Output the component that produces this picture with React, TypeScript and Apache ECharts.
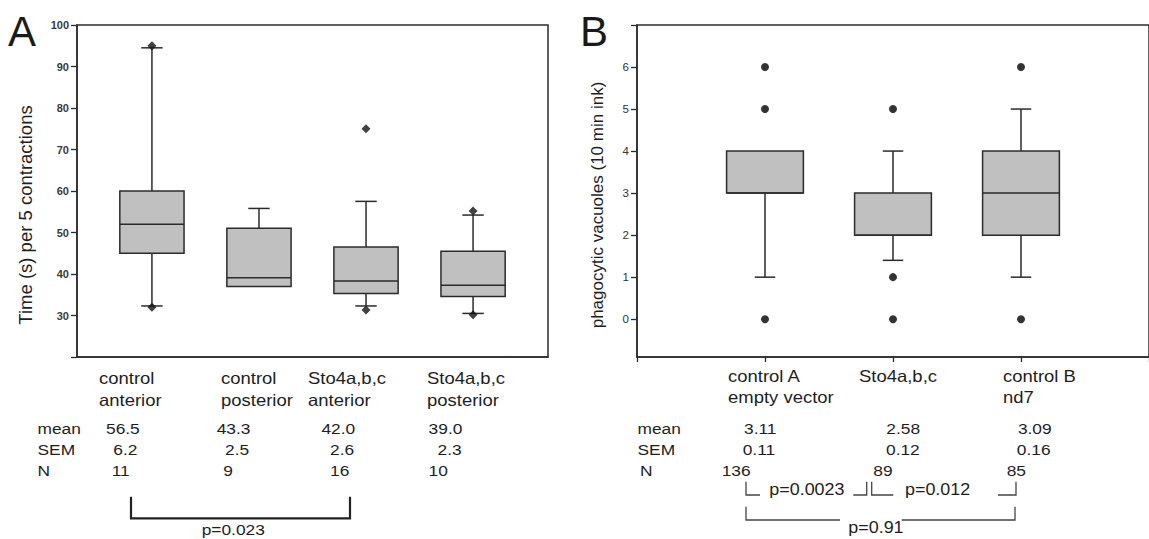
import React, { useEffect, useRef } from "react";
import * as echarts from "echarts";

// ---------- data ----------
const catsA = ["control\nanterior", "control\nposterior", "Sto4a,b,c\nanterior", "Sto4a,b,c\nposterior"];
const lowA = [32.3, 37, 32.3, 30.5];
const q1A = [45, 37, 35.3, 34.6];
const medA = [52, 39.1, 38.3, 37.3];
const q3A = [60, 51, 46.5, 45.5];
const highA = [94.5, 55.8, 57.5, 54.2];
const outliersA: [number, number][] = [[1, 95], [1, 32], [3, 75], [3, 31.3], [4, 55.2], [4, 30.2]];
const meanA = ["56.5", "43.3", "42.0", "39.0"];
const semA = ["6.2", "2.5", "2.6", "2.3"];
const nA = ["11", "9", "16", "10"];
const ticksA = [30, 40, 50, 60, 70, 80, 90, 100];

const catsB = ["control A\nempty vector", "Sto4a,b,c", "control B\nnd7"];
const lowB = [1, 1.4, 1];
const q1B = [3, 2, 2];
const medB = [3, 2, 3];
const q3B = [4, 3, 4];
const highB = [4, 4, 5];
const outliersB: [number, number][] = [[1, 6], [1, 5], [1, 0], [2, 5], [2, 1], [2, 0], [3, 6], [3, 0]];
const meanB = ["3.11", "2.58", "3.09"];
const semB = ["0.11", "0.12", "0.16"];
const nB = ["136", "89", "85"];
const ticksB = [0, 1, 2, 3, 4, 5, 6];

const rowLabels = ["mean", "SEM", "N"];
const pA = "p=0.023";
const pB = ["p=0.0023", "p=0.012", "p=0.91"];

// ---------- layout (pixels) ----------
const FONT = "'Liberation Sans', Arial, sans-serif";
const SX = 1.12;
const catLeftA = [99, 221, 308, 427];
const catLeftB = [728, 859, 1003];
const rowBase = [434, 455, 475.5];
const colA = [[106, 216.7, 321.4, 428.6], [113.3, 225, 330, 437.5], [111.7, 223.3, 330, 428.6]];
const colB = [[744, 886.3, 1017.9], [742.7, 886, 1016.8], [721.7, 873.3, 1006.7]];

function boxRender(boxW: number, capW: number) {
  return (_params: any, api: any) => {
    const x = api.value(0);
    const lo = api.value(1), q1 = api.value(2), med = api.value(3), q3 = api.value(4), hi = api.value(5);
    const pQ1 = api.coord([x, q1]);
    const pQ3 = api.coord([x, q3]);
    const pMed = api.coord([x, med]);
    const pLo = api.coord([x, lo]);
    const pHi = api.coord([x, hi]);
    const bw = api.size([boxW, 0])[0];
    const cw = api.size([capW, 0])[0];
    const cx = pQ1[0];
    const st = { stroke: "#2b2b2b", lineWidth: 1.5, fill: "none" };
    const ch: any[] = [];
    if (hi > q3) {
      ch.push({ type: "line", shape: { x1: cx, y1: pQ3[1], x2: cx, y2: pHi[1] }, style: st });
      ch.push({ type: "line", shape: { x1: cx - cw / 2, y1: pHi[1], x2: cx + cw / 2, y2: pHi[1] }, style: st });
    }
    if (lo < q1) {
      ch.push({ type: "line", shape: { x1: cx, y1: pQ1[1], x2: cx, y2: pLo[1] }, style: st });
      ch.push({ type: "line", shape: { x1: cx - cw / 2, y1: pLo[1], x2: cx + cw / 2, y2: pLo[1] }, style: st });
    }
    ch.push({
      type: "rect",
      shape: { x: cx - bw / 2, y: pQ3[1], width: bw, height: pQ1[1] - pQ3[1] },
      style: { fill: "#c0c0c0", stroke: "#2b2b2b", lineWidth: 1.5 },
    });
    ch.push({ type: "line", shape: { x1: cx - bw / 2, y1: pMed[1], x2: cx + bw / 2, y2: pMed[1] }, style: st });
    return { type: "group", children: ch };
  };
}

const T = (text: string, x: number, base: number, fs: number, fill = "#1e1e1e", sx = SX) => ({
  type: "text",
  x,
  y: base - 0.35 * fs,
  scaleX: sx,
  silent: true,
  style: { text, fontFamily: FONT, fontSize: fs, fill, align: "left", verticalAlign: "middle" },
});
const PL = (points: number[][], w: number, c: string) => ({
  type: "polyline",
  silent: true,
  shape: { points },
  style: { stroke: c, lineWidth: w, fill: "none" },
});

export default function App() {
  const ref = useRef<HTMLDivElement>(null);
  useEffect(() => {
    document.body.style.margin = "0";
    const chart = echarts.init(ref.current!, null, { renderer: "svg" });
    const boxDataA = catsA.map((_, i) => [i + 1, lowA[i], q1A[i], medA[i], q3A[i], highA[i]]);
    const boxDataB = catsB.map((_, i) => [i + 1, lowB[i], q1B[i], medB[i], q3B[i], highB[i]]);

    const g: any[] = [];
    g.push(T("A", 8, 46, 42, "#1a1a1a", 1));
    g.push(T("B", 580, 46, 42, "#1a1a1a", 1));
    g.push({
      type: "text", x: 25, y: 215, rotation: Math.PI / 2, silent: true,
      style: { text: "Time (s) per 5 contractions", fontFamily: FONT, fontSize: 18.5, fill: "#1e1e1e", align: "center", verticalAlign: "middle" },
    });
    g.push({
      type: "text", x: 597, y: 205, rotation: Math.PI / 2, silent: true,
      style: { text: "phagocytic vacuoles (10 min ink)", fontFamily: FONT, fontSize: 17, fill: "#1e1e1e", align: "center", verticalAlign: "middle" },
    });
    catsA.forEach((c, i) => {
      const [l1, l2] = c.split("\n");
      g.push(T(l1, catLeftA[i], 384, 16.5));
      if (l2) g.push(T(l2, catLeftA[i], 405.7, 16.5));
    });
    catsB.forEach((c, i) => {
      const [l1, l2] = c.split("\n");
      g.push(T(l1, catLeftB[i], 381.7, 16.5));
      if (l2) g.push(T(l2, catLeftB[i], 403.3, 16.5));
    });
    rowLabels.forEach((r, k) => {
      g.push(T(r, 37.5, rowBase[k], 15.5));
      g.push(T(r, k === 2 ? 640 : 637.5, rowBase[k], 15.5));
    });
    [meanA, semA, nA].forEach((row, k) => row.forEach((v, i) => g.push(T(v, colA[k][i], rowBase[k], 15.5))));
    [meanB, semB, nB].forEach((row, k) => row.forEach((v, i) => g.push(T(v, colB[k][i], rowBase[k], 15.5))));

    // brackets
    g.push(PL([[131, 496.7], [131, 518.3], [350, 518.3], [350, 496.7]], 2.2, "#222"));
    g.push(T(pA, 201.7, 534.5, 15.5));
    g.push(PL([[746, 481.7], [746, 495], [760, 495]], 1.3, "#444"));
    g.push(PL([[853.3, 495], [866.7, 495], [866.7, 481.7]], 1.3, "#444"));
    g.push(PL([[871.7, 481.7], [871.7, 495], [893.3, 495]], 1.3, "#444"));
    g.push(PL([[998, 495], [1016, 495], [1016, 481.7]], 1.3, "#444"));
    g.push(PL([[746, 506.7], [746, 520], [840, 520]], 1.3, "#444"));
    g.push(PL([[901.7, 520], [1015, 520], [1015, 506.7]], 1.3, "#444"));
    g.push(T(pB[0], 769.3, 495, 16));
    g.push(T(pB[1], 905, 495, 16));
    g.push(T(pB[2], 848.3, 533, 16));

    const axisLineStyle = { color: "#2b2b2b", width: 1.5 };

    chart.setOption({
      animation: false,
      backgroundColor: "#ffffff",
      grid: [
        { left: 77, top: 25, width: 471, height: 332, show: true, borderColor: "#2b2b2b", borderWidth: 1.5, backgroundColor: "transparent" },
        { left: 637, top: 25, width: 525, height: 332, show: true, borderColor: "#2b2b2b", borderWidth: 1.5, backgroundColor: "transparent" },
      ],
      xAxis: [
        {
          gridIndex: 0, type: "value", min: 0.3, max: 4.7,
          axisLine: { show: true, onZero: false, lineStyle: axisLineStyle },
          axisTick: { show: false }, axisLabel: { show: false }, splitLine: { show: false },
        },
        {
          gridIndex: 1, type: "value", min: 0, max: 4, interval: 1,
          axisLine: { show: true, onZero: false, lineStyle: axisLineStyle },
          axisTick: { show: true, length: 5, lineStyle: { color: "#2b2b2b", width: 1.3 } },
          axisLabel: { show: false }, splitLine: { show: false },
        },
      ],
      yAxis: [
        {
          gridIndex: 0, type: "value", min: 20, max: 100, interval: 10,
          axisLine: { show: true, onZero: false, lineStyle: axisLineStyle },
          axisTick: { show: true, length: 6, lineStyle: { color: "#2b2b2b", width: 1.3 } },
          axisLabel: {
            margin: 8, fontSize: 11, fontWeight: "bold", color: "#3a3a3a", fontFamily: FONT,
            formatter: (v: number) => (ticksA.indexOf(v) >= 0 ? String(v) : ""),
          },
          splitLine: { show: false },
        },
        {
          gridIndex: 1, type: "value", min: -0.9, max: 7,
          axisLine: { show: true, onZero: false, lineStyle: axisLineStyle },
          axisTick: { show: true, length: 6, customValues: [0, 1, 2, 3, 4, 5, 6, 7], lineStyle: { color: "#2b2b2b", width: 1.3 } },
          axisLabel: { margin: 8, fontSize: 11.5, color: "#333", fontFamily: FONT, customValues: ticksB },
          splitLine: { show: false },
        },
      ],
      series: [
        {
          type: "custom", xAxisIndex: 0, yAxisIndex: 0, renderItem: boxRender(0.6, 0.2),
          encode: { x: 0, y: [1, 2, 3, 4, 5] }, data: boxDataA, silent: true,
        },
        {
          type: "scatter", xAxisIndex: 0, yAxisIndex: 0, symbol: "diamond", symbolSize: 9,
          itemStyle: { color: "#111" }, data: outliersA, silent: true,
        },
        {
          type: "custom", xAxisIndex: 1, yAxisIndex: 1, renderItem: boxRender(0.6, 0.16),
          encode: { x: 0, y: [1, 2, 3, 4, 5] }, data: boxDataB, silent: true,
        },
        {
          type: "scatter", xAxisIndex: 1, yAxisIndex: 1, symbol: "circle", symbolSize: 8,
          itemStyle: { color: "#000" }, data: outliersB, silent: true,
        },
      ],
      graphic: g,
    });
    return () => chart.dispose();
  }, []);
  return <div ref={ref} style={{ width: 1149, height: 539 }} />;
}
